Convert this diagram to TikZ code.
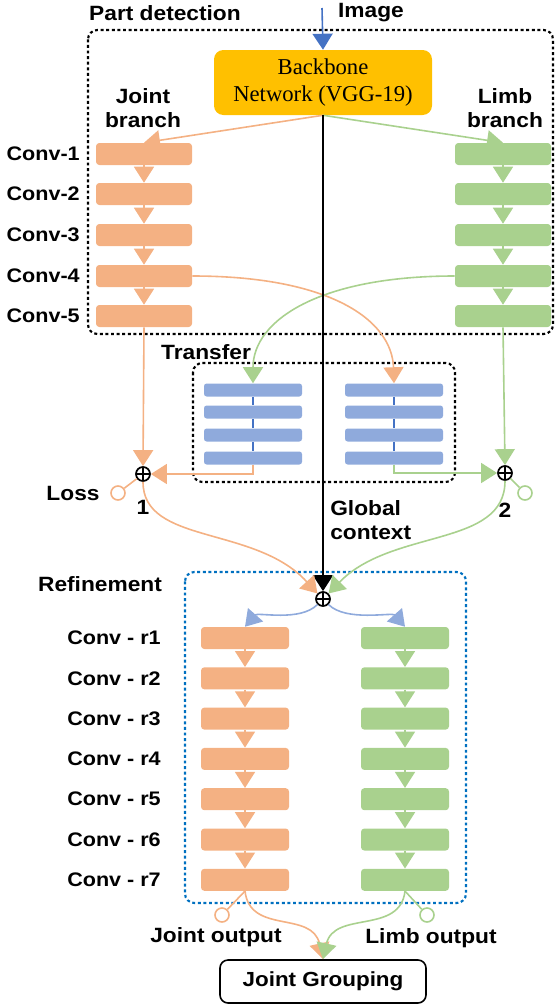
\documentclass[tikz,border=0pt]{standalone}
\usepackage{fontspec}
\usetikzlibrary{arrows.meta,positioning}
\newfontfamily\lblfont[FakeStretch=1.1]{Liberation Sans}
\newfontfamily\bbfont{Liberation Serif}
\definecolor{jointc}{HTML}{F4B183}
\definecolor{limbc}{HTML}{A9D18E}
\definecolor{tranc}{HTML}{8FAADC}
\definecolor{bbc}{HTML}{FFC000}
\definecolor{imgc}{HTML}{4472C4}
\definecolor{refc}{HTML}{0070C0}
\tikzset{
  lbl/.style={font=\lblfont\bfseries\fontsize{15.5}{18.5}\selectfont, inner sep=0pt},
  convlbl/.style={font=\lblfont\bfseries\fontsize{14.7}{17}\selectfont, inner sep=0pt, anchor=east},
  convbox/.style={rounded corners=2.5pt, minimum width=72pt, minimum height=16.5pt, inner sep=0pt},
  refbox/.style={convbox, minimum width=66pt},
  bar/.style={fill=tranc, rounded corners=2pt, minimum width=73.5pt, minimum height=9.75pt, inner sep=0pt},
  plus/.style={circle, draw, line width=1.3pt, minimum size=10.5pt, inner sep=0pt,
    path picture={\draw[line width=1pt] (path picture bounding box.north) -- (path picture bounding box.south)
      (path picture bounding box.west) -- (path picture bounding box.east);}},
  outc/.style={circle, draw=#1, fill=white, line width=1.2pt, minimum size=10.5pt, inner sep=0pt},
  headtip/.style={-{Triangle[width=15pt,length=12pt]}},
  conn/.style={line width=1.2pt},
  dotbox/.style={line width=1.6pt, dash pattern=on 2.2pt off 2pt, rounded corners=7pt},
}
\begin{document}
\begin{tikzpicture}[x=0.75pt,y=-0.75pt]
  \useasboundingbox (0,0) rectangle (556,1007);
  % frames
  \draw[dotbox] (88,30) rectangle (553,334);
  \draw[dotbox] (193,363) rectangle (455,482);
  \draw[dotbox, draw=refc] (185,572) rectangle (466,903);
  \node[lbl] (pd) at (165,13) {Part detection};
  \node[lbl] (image) at (371,13) {Image};
  \node[lbl] (transfer) at (206,352) {Transfer};
  \node[lbl] (refine) at (100,584) {Refinement};
  % backbone
  \coordinate (imgin) at (322,8);
  \node[fill=bbc, rounded corners=7pt, minimum width=163.5pt, minimum height=48.75pt, inner sep=0pt,
    align=center, font=\bbfont\fontsize{17}{20}\selectfont] (bb) at (323,82.5) {Backbone\\Network (VGG-19)};
  \draw[conn, headtip, draw=imgc] (imgin) -- (bb.north);
  \node[lbl, align=center, font=\lblfont\bfseries\fontsize{15.5}{18}\selectfont] (jb) at (143,108) {Joint\\branch};
  \node[lbl, align=center, font=\lblfont\bfseries\fontsize{15.5}{18}\selectfont] (lb) at (505,108) {Limb\\branch};
  % part detection columns
  \foreach \i/\y in {1/154,2/194,3/235,4/276,5/316} {
    \node[convbox, fill=jointc] (j\i) at (144,\y) {};
    \node[convbox, fill=limbc] (l\i) at (503,\y) {};
    \node[convlbl] (cl\i) at (80,\y) {Conv-\i};
  }
  \foreach \i/\j in {1/2,2/3,3/4,4/5} {
    \draw[conn, headtip, draw=jointc] (j\i) -- (j\j);
    \draw[conn, headtip, draw=limbc] (l\i) -- (l\j);
  }
  \draw[conn, headtip, draw=jointc] (bb.south) -- (j1.north);
  \draw[conn, headtip, draw=limbc] (bb.south) -- (l1.north);
  % transfer blocks
  \foreach \i/\y in {1/390,2/412,3/435,4/458} {
    \node[bar] (tl\i) at (253,\y) {};
    \node[bar] (tr\i) at (394,\y) {};
  }
  \foreach \i/\j in {1/2,2/3,3/4} {
    \draw[draw=imgc, line width=0.9pt] (tl\i.south) -- (tl\j.north);
    \draw[draw=imgc, line width=0.9pt] (tr\i.south) -- (tr\j.north);
  }
  \draw[conn, headtip, draw=jointc] (j4.east) .. controls (330,276) and (392,320) .. (tr1.north);
  \draw[conn, headtip, draw=limbc] (l4.west) .. controls (320,276) and (253,320) .. (tl1.north);
  % sums
  \node[plus] (p1) at (143,474) {};
  \node[plus] (p2) at (505,473) {};
  \node[outc=jointc] (loss1) at (118,493) {};
  \node[outc=limbc] (loss2) at (525,493) {};
  \node[lbl] (losslbl) at (73,493) {Loss};
  \node[lbl] (n1) at (143,507) {1};
  \node[lbl] (n2) at (505,510) {2};
  \draw[conn, draw=jointc] (p1) -- (loss1);
  \draw[conn, draw=limbc] (p2) -- (loss2);
  \draw[conn, headtip, draw=jointc] (j5.south) -- (p1.north);
  \draw[conn, headtip, draw=limbc] (l5.south) -- (p2.north);
  \draw[conn, headtip, draw=jointc] (tl4.south) |- (p1.east);
  \draw[conn, headtip, draw=limbc] (tr4.south) |- (p2.west);
  \node[lbl, align=left, anchor=west] (gc) at (330,520) {Global\\context};
  % refinement
  \node[plus] (pr) at (323,599) {};
  \draw[line width=1.5pt, headtip] (bb.south) -- (pr.north);
  \draw[conn, headtip, draw=jointc] (p1.south) .. controls (143,545) and (255,525) .. (pr.north west);
  \draw[conn, headtip, draw=limbc] (p2.south) .. controls (505,548) and (392,528) .. (pr.north east);
  \foreach \i in {1,...,7} {
    \node[refbox, fill=jointc] (rj\i) at (245,{638+40.3*(\i-1)}) {};
    \node[refbox, fill=limbc] (rl\i) at (405,{638+40.3*(\i-1)}) {};
    \node[convlbl] (rc\i) at (161,{638+40.3*(\i-1)}) {Conv - r\i};
  }
  \foreach \i/\j in {1/2,2/3,3/4,4/5,5/6,6/7} {
    \draw[conn, headtip, draw=jointc] (rj\i) -- (rj\j);
    \draw[conn, headtip, draw=limbc] (rl\i) -- (rl\j);
  }
  \draw[conn, headtip, draw=tranc] (pr.south west) .. controls (300,622) and (258,612) .. (rj1.north);
  \draw[conn, headtip, draw=tranc] (pr.south east) .. controls (346,622) and (392,612) .. (rl1.north);
  % outputs
  \node[outc=jointc] (jout) at (222,915) {};
  \node[outc=limbc] (lout) at (427,915) {};
  \node[lbl] (joutlbl) at (216,937) {Joint output};
  \node[lbl] (loutlbl) at (431,938) {Limb output};
  \node[draw, line width=1.2pt, rounded corners=6pt, minimum width=154.5pt, minimum height=32.25pt, inner sep=0pt,
    font=\lblfont\bfseries\fontsize{15.3}{18}\selectfont] (jg) at (323,981.5) {Joint Grouping};
  \draw[conn, draw=jointc] (rj7.south) -- (jout);
  \draw[conn, draw=limbc] (rl7.south) -- (lout);
  \draw[conn, headtip, draw=jointc] (rj7.south) .. controls (250,935) and (312,910) .. (jg.north);
  \draw[conn, headtip, draw=limbc] (rl7.south) .. controls (400,935) and (334,910) .. (jg.north);
\end{tikzpicture}
\end{document}
